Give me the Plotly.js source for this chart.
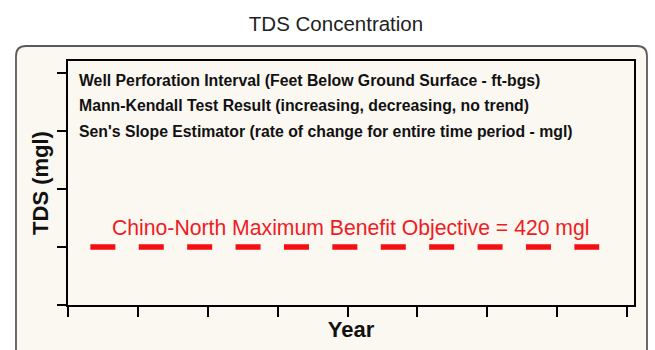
<!DOCTYPE html>
<html>
<head>
<meta charset="utf-8">
<script src="https://cdn.plot.ly/plotly-3.0.1.min.js"></script>
<style>html,body{margin:0;padding:0;background:#fff;}#chart{width:655px;height:350px;}</style>
</head>
<body>
<div id="chart"></div>
<script>
// ---- data ----
const xTickYears = [1980, 1985, 1990, 1995, 2000, 2005, 2010, 2015, 2020];
const yTickValues = [280, 420, 560, 700, 840];
const objectiveYears = [1981.6, 2018];
const objectiveValue = [420, 420];
const objectiveLabel = "Chino-North Maximum Benefit Objective = 420 mgl";
const noteLines = [
  "Well Perforation Interval (Feet Below Ground Surface - ft-bgs)",
  "Mann-Kendall Test Result (increasing, decreasing, no trend)",
  "Sen's Slope Estimator (rate of change for entire time period - mgl)"
];
const chartTitle = "TDS Concentration";
const xTitle = "Year";
const yTitle = "TDS (mgl)";

// ---- layout geometry (pixels) ----
const W = 655, H = 350;
const L = 68, R = 634, T = 61, B = 305;
const pw = R - L, ph = B - T;
const px = x => (x - L) / pw;
const py = y => (B - y) / ph;

// rounded background box
const bx0 = px(16), bx1 = px(647), by0 = py(46), by1 = py(362);
const rx = 10 / pw, ry = 10 / ph;
const boxPath = `M ${bx0 + rx} ${by0} L ${bx1 - rx} ${by0} Q ${bx1} ${by0} ${bx1} ${by0 - ry} ` +
  `L ${bx1} ${by1} L ${bx0} ${by1} L ${bx0} ${by0 - ry} Q ${bx0} ${by0} ${bx0 + rx} ${by0} Z`;

const font = "Arial, 'Liberation Sans', sans-serif";

const traces = [{
  type: 'scatter',
  mode: 'lines',
  x: objectiveYears,
  y: objectiveValue,
  line: {color: '#f50f14', width: 5.5, dash: '25px,23.4px'},
  hoverinfo: 'skip',
  showlegend: false
}];

const noteY = [80, 105, 131.5];
const annotations = noteLines.map((t, i) => ({
  xref: 'paper', yref: 'paper', x: px(77), y: py(noteY[i]),
  xanchor: 'left', yanchor: 'middle', showarrow: false,
  text: '<b>' + t + '</b>',
  font: {family: font, size: 15.8, color: '#111'}
}));
annotations.push({
  xref: 'x', yref: 'y', x: (objectiveYears[0] + objectiveYears[1]) / 2, y: objectiveValue[0],
  yshift: 19, xshift: 6, xanchor: 'center', yanchor: 'middle', showarrow: false,
  text: objectiveLabel,
  font: {family: font, size: 21.2, color: '#ee1c24'}
});

const layout = {
  width: W, height: H,
  margin: {l: L, r: W - R, t: T, b: H - B, pad: 0},
  paper_bgcolor: '#ffffff',
  plot_bgcolor: 'rgba(0,0,0,0)',
  showlegend: false,
  title: {
    text: chartTitle, x: 336 / W, xref: 'container', xanchor: 'center',
    y: 1 - 24 / H, yanchor: 'middle', yref: 'container',
    font: {family: font, size: 20.5, color: '#222'}
  },
  xaxis: {
    range: [1980, 2020.49], tickvals: xTickYears, showticklabels: false,
    ticks: 'outside', ticklen: 10, tickwidth: 2, tickcolor: '#000',
    showline: true, linecolor: '#000', linewidth: 2, mirror: true,
    showgrid: false, zeroline: false, fixedrange: true,
    title: {text: '<b>' + xTitle + '</b>', standoff: 6, font: {family: font, size: 22, color: '#111'}}
  },
  yaxis: {
    range: [280, 869], tickvals: yTickValues, showticklabels: false,
    ticks: 'outside', ticklen: 9, tickwidth: 2, tickcolor: '#000',
    showline: true, linecolor: '#000', linewidth: 2, mirror: true,
    showgrid: false, zeroline: false, fixedrange: true,
    title: {text: '<b>' + yTitle + '</b>', standoff: 2, font: {family: font, size: 22, color: '#111'}}
  },
  shapes: [{
    type: 'path', xref: 'paper', yref: 'paper', layer: 'below',
    path: boxPath, fillcolor: '#fbf7f1', line: {color: '#5a5a5a', width: 1.8}
  }],
  annotations: annotations
};

Plotly.newPlot('chart', traces, layout, {displayModeBar: false, staticPlot: true});
</script>
</body>
</html>
